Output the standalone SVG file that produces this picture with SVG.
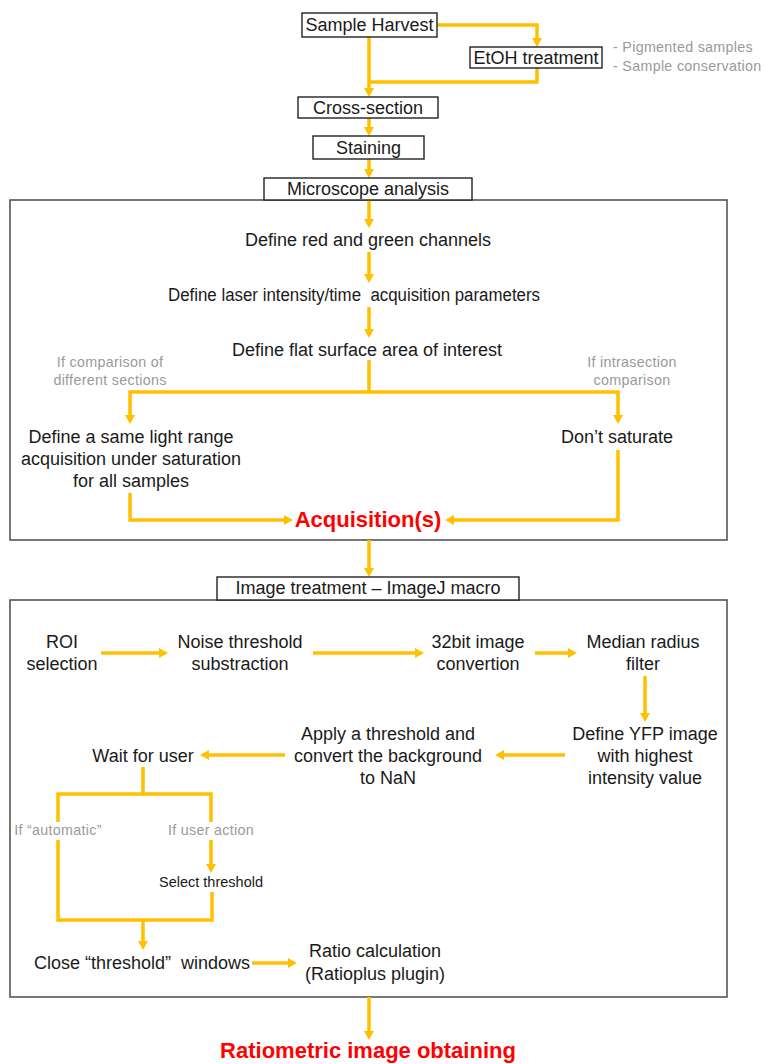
<svg xmlns="http://www.w3.org/2000/svg" width="764" height="1064" viewBox="0 0 764 1064">
<style>
.box{fill:#fff;stroke:#222;stroke-width:1.4}
.frame{fill:none;stroke:#555;stroke-width:1.6}
.t{font-family:"Liberation Sans",Arial,sans-serif;font-size:18px;fill:#1a1a1a;text-anchor:middle}
.g{font-family:"Liberation Sans",Arial,sans-serif;font-size:14.3px;fill:#9a9a9a;letter-spacing:0.3px}
.s{font-family:"Liberation Sans",Arial,sans-serif;font-size:14.5px;fill:#1a1a1a;text-anchor:middle}
.r{font-family:"Liberation Sans",Arial,sans-serif;font-size:22px;font-weight:bold;fill:#ff0000;text-anchor:middle}
.c path{fill:none;stroke:#FFC000;stroke-width:3.5}
</style>
<defs>
<marker id="ah" markerUnits="userSpaceOnUse" markerWidth="10" markerHeight="10" refX="1" refY="5" orient="auto">
<path d="M0,0 L9,5 L0,10 z" fill="#FFC000"/>
</marker>
</defs>
<rect width="764" height="1064" fill="#fff"/>
<rect class="frame" x="10" y="200" width="717" height="340"/>
<rect class="frame" x="10" y="600" width="717" height="397"/>
<g class="c" id="connectors">
<path d="M437,25 H537 V39" marker-end="url(#ah)"/>
<path d="M369,37 V89" marker-end="url(#ah)"/>
<path d="M537,68 V82 H369"/>
<path d="M369,118 V128" marker-end="url(#ah)"/>
<path d="M369,159 V170" marker-end="url(#ah)"/>
<path d="M369,200 V220" marker-end="url(#ah)"/>
<path d="M369,252 V275" marker-end="url(#ah)"/>
<path d="M369,307 V330" marker-end="url(#ah)"/>
<path d="M369,360 V392 H130 V416" marker-end="url(#ah)"/>
<path d="M369,392 H618 V416" marker-end="url(#ah)"/>
<path d="M130,493 V520 H285" marker-end="url(#ah)"/>
<path d="M618,450 V520 H453" marker-end="url(#ah)"/>
<path d="M369,540 V569" marker-end="url(#ah)"/>
<path d="M101,653 H160" marker-end="url(#ah)"/>
<path d="M313,653 H416" marker-end="url(#ah)"/>
<path d="M535,653 H569" marker-end="url(#ah)"/>
<path d="M645,676 V714" marker-end="url(#ah)"/>
<path d="M565,755 H503" marker-end="url(#ah)"/>
<path d="M285,755 H208" marker-end="url(#ah)"/>
<path d="M143,767 V794 H58 V822"/>
<path d="M143,794 H211 V822"/>
<path d="M211,840 V865" marker-end="url(#ah)"/>
<path d="M58,840 V920 H212 V892"/>
<path d="M143,920 V942" marker-end="url(#ah)"/>
<path d="M252,963 H289" marker-end="url(#ah)"/>
<path d="M369,997 V1032" marker-end="url(#ah)"/>
</g>
<g id="sample-harvest"><rect class="box" x="302" y="13" width="135" height="24"/><text class="t" x="369.5" y="31">Sample Harvest</text></g>
<g id="etoh"><rect class="box" x="470" y="47" width="132" height="21"/><text class="t" x="536" y="64">EtOH treatment</text></g>
<g id="etoh-notes"><text class="g" x="613" y="52">- Pigmented samples</text><text class="g" x="613" y="71">- Sample conservation</text></g>
<g id="cross-section"><rect class="box" x="298" y="97" width="140" height="21"/><text class="t" x="368" y="114">Cross-section</text></g>
<g id="staining"><rect class="box" x="313" y="136" width="111" height="23"/><text class="t" x="368.5" y="154">Staining</text></g>
<g id="microscope"><rect class="box" x="264" y="178" width="208" height="22"/><text class="t" x="368" y="195">Microscope analysis</text></g>
<g id="red-green"><text class="t" x="368" y="246">Define red and green channels</text></g>
<g id="laser"><text class="t" x="354" y="301" textLength="372" lengthAdjust="spacingAndGlyphs" xml:space="preserve">Define laser intensity/time  acquisition parameters</text></g>
<g id="flat-surface"><text class="t" x="367" y="356">Define flat surface area of interest</text></g>
<g id="cond-left"><text class="g" x="110" y="367" text-anchor="middle">If comparison of</text><text class="g" x="110" y="385" text-anchor="middle">different  sections</text></g>
<g id="cond-right"><text class="g" x="632" y="367" text-anchor="middle">If intrasection</text><text class="g" x="632" y="385" text-anchor="middle">comparison</text></g>
<g id="same-light"><text class="t" x="131" y="443">Define a same light range</text><text class="t" x="131" y="465">acquisition under saturation</text><text class="t" x="131" y="487">for all samples</text></g>
<g id="dont-saturate"><text class="t" x="617" y="443">Don’t saturate</text></g>
<g id="acquisition"><text class="r" x="368" y="527">Acquisition(s)</text></g>
<g id="image-treatment"><rect class="box" x="217" y="577" width="302" height="23"/><text class="t" x="368" y="594">Image treatment – ImageJ macro</text></g>
<g id="roi"><text class="t" x="62" y="648">ROI</text><text class="t" x="62" y="670">selection</text></g>
<g id="noise"><text class="t" x="240" y="648">Noise threshold</text><text class="t" x="240" y="670">substraction</text></g>
<g id="bit32"><text class="t" x="478" y="648">32bit image</text><text class="t" x="478" y="670">convertion</text></g>
<g id="median"><text class="t" x="643" y="648">Median radius</text><text class="t" x="643" y="670">filter</text></g>
<g id="yfp"><text class="t" x="645" y="740">Define YFP image</text><text class="t" x="645" y="762">with highest</text><text class="t" x="645" y="784">intensity value</text></g>
<g id="apply-threshold"><text class="t" x="388" y="740">Apply a threshold and</text><text class="t" x="388" y="762">convert the background</text><text class="t" x="388" y="784">to NaN</text></g>
<g id="wait"><text class="t" x="143" y="762">Wait for user</text></g>
<g id="cond-auto"><text class="g" x="58" y="835" text-anchor="middle">If “automatic”</text></g>
<g id="cond-user"><text class="g" x="211" y="835" text-anchor="middle">If user action</text></g>
<g id="select-threshold"><text class="s" x="211" y="887">Select threshold</text></g>
<g id="close-windows"><text class="t" x="142" y="969" xml:space="preserve">Close “threshold”  windows</text></g>
<g id="ratio"><text class="t" x="375" y="957">Ratio calculation</text><text class="t" x="375" y="980">(Ratioplus plugin)</text></g>
<g id="ratiometric"><text class="r" x="368" y="1058">Ratiometric image obtaining</text></g>
</svg>
